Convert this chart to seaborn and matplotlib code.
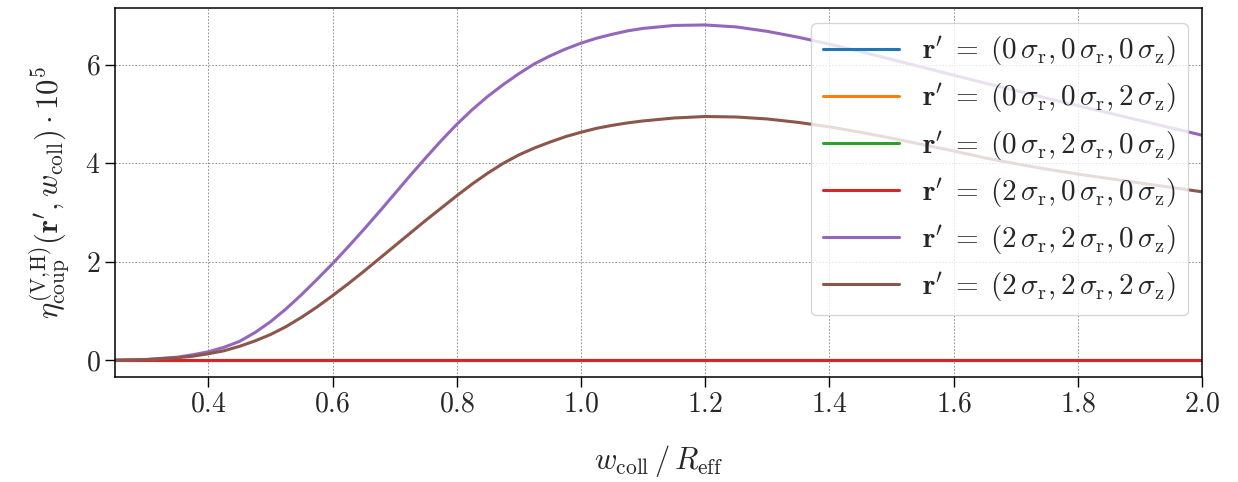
import matplotlib
matplotlib.use("Agg")
import matplotlib.pyplot as plt
import pandas as pd
import seaborn as sns

# w_coll / R_eff sample points
w_coll = [0.25, 0.30, 0.35, 0.375, 0.40, 0.425, 0.45, 0.475, 0.50, 0.525,
          0.55, 0.575, 0.60, 0.625, 0.65, 0.675, 0.70, 0.725, 0.75, 0.775,
          0.80, 0.825, 0.85, 0.875, 0.90, 0.925, 0.95, 0.975, 1.00, 1.025,
          1.05, 1.075, 1.10, 1.15, 1.20, 1.25, 1.30, 1.35, 1.40, 1.45,
          1.50, 1.55, 1.60, 1.65, 1.70, 1.75, 1.80, 1.85, 1.90, 1.95, 2.00]

zeros = [0.0] * len(w_coll)
eta_220 = [0.00, 0.015, 0.06, 0.11, 0.17, 0.26, 0.38, 0.56, 0.78, 1.04,
           1.33, 1.64, 1.96, 2.30, 2.65, 3.01, 3.38, 3.75, 4.11, 4.46,
           4.79, 5.09, 5.36, 5.60, 5.82, 6.02, 6.18, 6.32, 6.44, 6.54,
           6.62, 6.69, 6.74, 6.80, 6.81, 6.77, 6.68, 6.56, 6.42, 6.27,
           6.11, 5.95, 5.79, 5.63, 5.48, 5.32, 5.17, 5.02, 4.87, 4.72, 4.57]
eta_222 = [0.00, 0.01, 0.05, 0.08, 0.13, 0.19, 0.28, 0.39, 0.52, 0.68,
           0.87, 1.08, 1.31, 1.55, 1.80, 2.06, 2.32, 2.58, 2.84, 3.09,
           3.34, 3.58, 3.80, 4.00, 4.17, 4.31, 4.43, 4.54, 4.63, 4.71,
           4.77, 4.82, 4.86, 4.92, 4.95, 4.94, 4.90, 4.83, 4.74, 4.63,
           4.51, 4.38, 4.25, 4.11, 3.99, 3.88, 3.78, 3.69, 3.60, 3.51, 3.42]

positions = ["(0\\,\\sigma_{\\mathrm{r}}, 0\\,\\sigma_{\\mathrm{r}}, 0\\,\\sigma_{\\mathrm{z}})",
             "(0\\,\\sigma_{\\mathrm{r}}, 0\\,\\sigma_{\\mathrm{r}}, 2\\,\\sigma_{\\mathrm{z}})",
             "(0\\,\\sigma_{\\mathrm{r}}, 2\\,\\sigma_{\\mathrm{r}}, 0\\,\\sigma_{\\mathrm{z}})",
             "(2\\,\\sigma_{\\mathrm{r}}, 0\\,\\sigma_{\\mathrm{r}}, 0\\,\\sigma_{\\mathrm{z}})",
             "(2\\,\\sigma_{\\mathrm{r}}, 2\\,\\sigma_{\\mathrm{r}}, 0\\,\\sigma_{\\mathrm{z}})",
             "(2\\,\\sigma_{\\mathrm{r}}, 2\\,\\sigma_{\\mathrm{r}}, 2\\,\\sigma_{\\mathrm{z}})"]
series = [zeros, zeros, zeros, zeros, eta_220, eta_222]

labels = [r"$\mathbf{r}^\prime\;=\;" + p + "$" for p in positions]

rows = []
for lab, vals in zip(labels, series):
    for x, y in zip(w_coll, vals):
        rows.append((lab, x, y))
df = pd.DataFrame(rows, columns=["pos", "w", "eta"])

sns.set_theme(style="ticks")
plt.rcParams["font.family"] = "serif"
plt.rcParams["font.serif"] = ["cmr10", "DejaVu Serif"]
plt.rcParams["mathtext.fontset"] = "cm"
plt.rcParams["axes.formatter.use_mathtext"] = True

fig, ax = plt.subplots(figsize=(12.38, 4.82), dpi=100)
sns.lineplot(data=df, x="w", y="eta", hue="pos", hue_order=labels,
             palette="tab10", linewidth=2.2, ax=ax)

ax.set_xlim(0.25, 2.0)
ax.grid(True, color="gray", linestyle=(0, (2, 2)), linewidth=0.6)
ax.tick_params(labelsize=20, length=7, width=1.0, color="black")
for s in ax.spines.values():
    s.set_color("black")
    s.set_linewidth(1.1)

ax.set_xlabel(r"$w_{\mathrm{coll}}\,/\,R_{\mathrm{eff}}$", fontsize=22, labelpad=18)
ax.set_ylabel(r"$\eta_{\mathrm{coup}}^{(\mathrm{V},\!\mathrm{H})}(\mathbf{r}^\prime, w_{\mathrm{coll}}) \cdot 10^5$",
              fontsize=22, labelpad=10)
ax.legend(loc="upper right", fontsize=21, title=None, handlelength=2.6,
          labelspacing=0.45, framealpha=0.8)

fig.subplots_adjust(left=0.093, right=0.971, top=0.983, bottom=0.218)
fig.savefig("out.png", dpi=100)
